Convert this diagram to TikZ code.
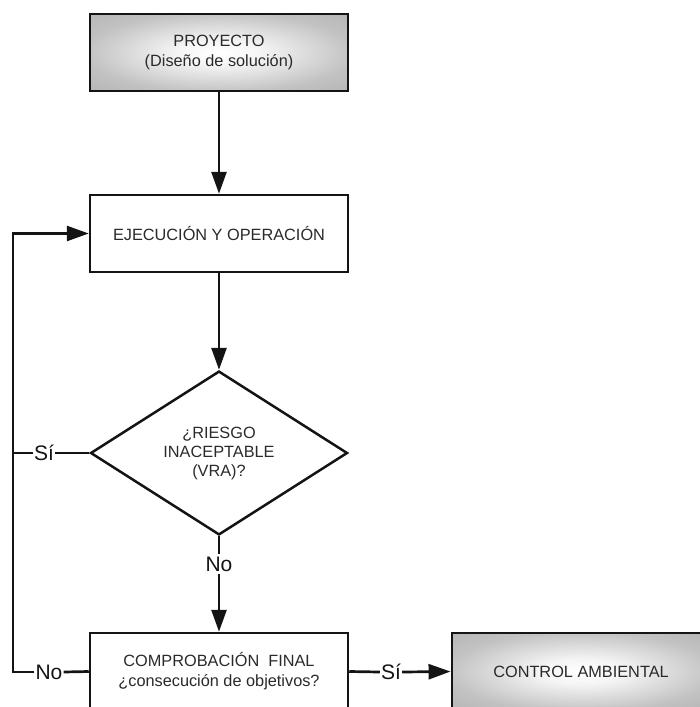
\documentclass[tikz,border=0pt]{standalone}
\usepackage{fontspec}
\setmainfont{Liberation Sans}
\usetikzlibrary{shapes.geometric,arrows.meta}
\definecolor{txt}{HTML}{2A2A2A}
\definecolor{edge}{HTML}{141414}
% soft grey-to-white fill for the highlighted boxes
\pgfdeclareradialshading{softgrey}{\pgfpoint{0bp}{0bp}}{%
  color(0bp)=(white); color(8bp)=(white!96!black); color(26bp)=(black!24);
  color(36bp)=(black!29); color(50bp)=(black!32)}
\tikzset{
  box/.style={draw=edge, line width=2.5pt, minimum width=258pt, minimum height=77pt,
    inner sep=0pt, align=center, text=txt, font=\fontsize{16.3}{20}\selectfont},
  shadedbox/.style={box, line width=2.9pt, shading=softgrey},
  decision/.style={draw=edge, line width=2.5pt, shape=diamond, minimum width=257pt,
    minimum height=155pt, inner sep=0pt, align=center, text=txt,
    font=\fontsize{16.3}{19}\selectfont},
  lbl/.style={inner sep=2pt, text=edge, font=\fontsize{21}{24}\selectfont},
  conn/.style={draw=edge, line width=2.7pt},
  arr/.style={conn, -{Triangle[length=22pt,width=15pt]}}
}
\begin{document}
\begin{tikzpicture}[x=1pt,y=-1pt]
\useasboundingbox (0,0) rectangle (700,707);
\clip (0,0) rectangle (700,707);

% process boxes
\node[shadedbox] (proy) at (219,52.5) {PROYECTO\\(Diseño de solución)};
\node[box, fill=white] (ejec) at (219,233.5) {EJECUCIÓN Y OPERACIÓN};
\node[decision] (riesgo) at (219,453) {¿RIESGO\\INACEPTABLE\\(VRA)?};
\node[box, fill=white] (comp) at (219,671.5) {COMPROBACIÓN\ \ FINAL\\¿consecución de objetivos?};
\node[shadedbox] (ctrl) at (581,671.5) {CONTROL AMBIENTAL};

% branch labels
\node[lbl] (no1) at (219,564) {No};
\node[lbl, inner xsep=1pt] (si1) at (44,453) {Sí};
\node[lbl, inner xsep=1pt] (no2) at (49,672) {No};
\node[lbl, inner xsep=1pt] (si2) at (391,672) {Sí};

% return loop corners
\coordinate (lb) at (13,672);
\coordinate (lt) at (13,233.5);

% main flow
\draw[arr] (proy) -- (ejec);
\draw[arr] (ejec) -- (riesgo.north);
\draw[conn] (riesgo.south) -- (no1.north);
\draw[arr] (no1.south) -- (comp.north);

% feedback to execution
\draw[conn] (riesgo.west) -- (si1.east);
\draw[conn] (si1.west) -- (si1.west -| lt);
\draw[conn] (comp.west) -- (no2.east);
\draw[arr] (no2.west) -- (lb) -- (lt) -- (ejec.west);

% exit to environmental control
\draw[conn] (comp.east) -- (si2.west);
\draw[arr] (si2.east) -- (ctrl.west);
\end{tikzpicture}
\end{document}
